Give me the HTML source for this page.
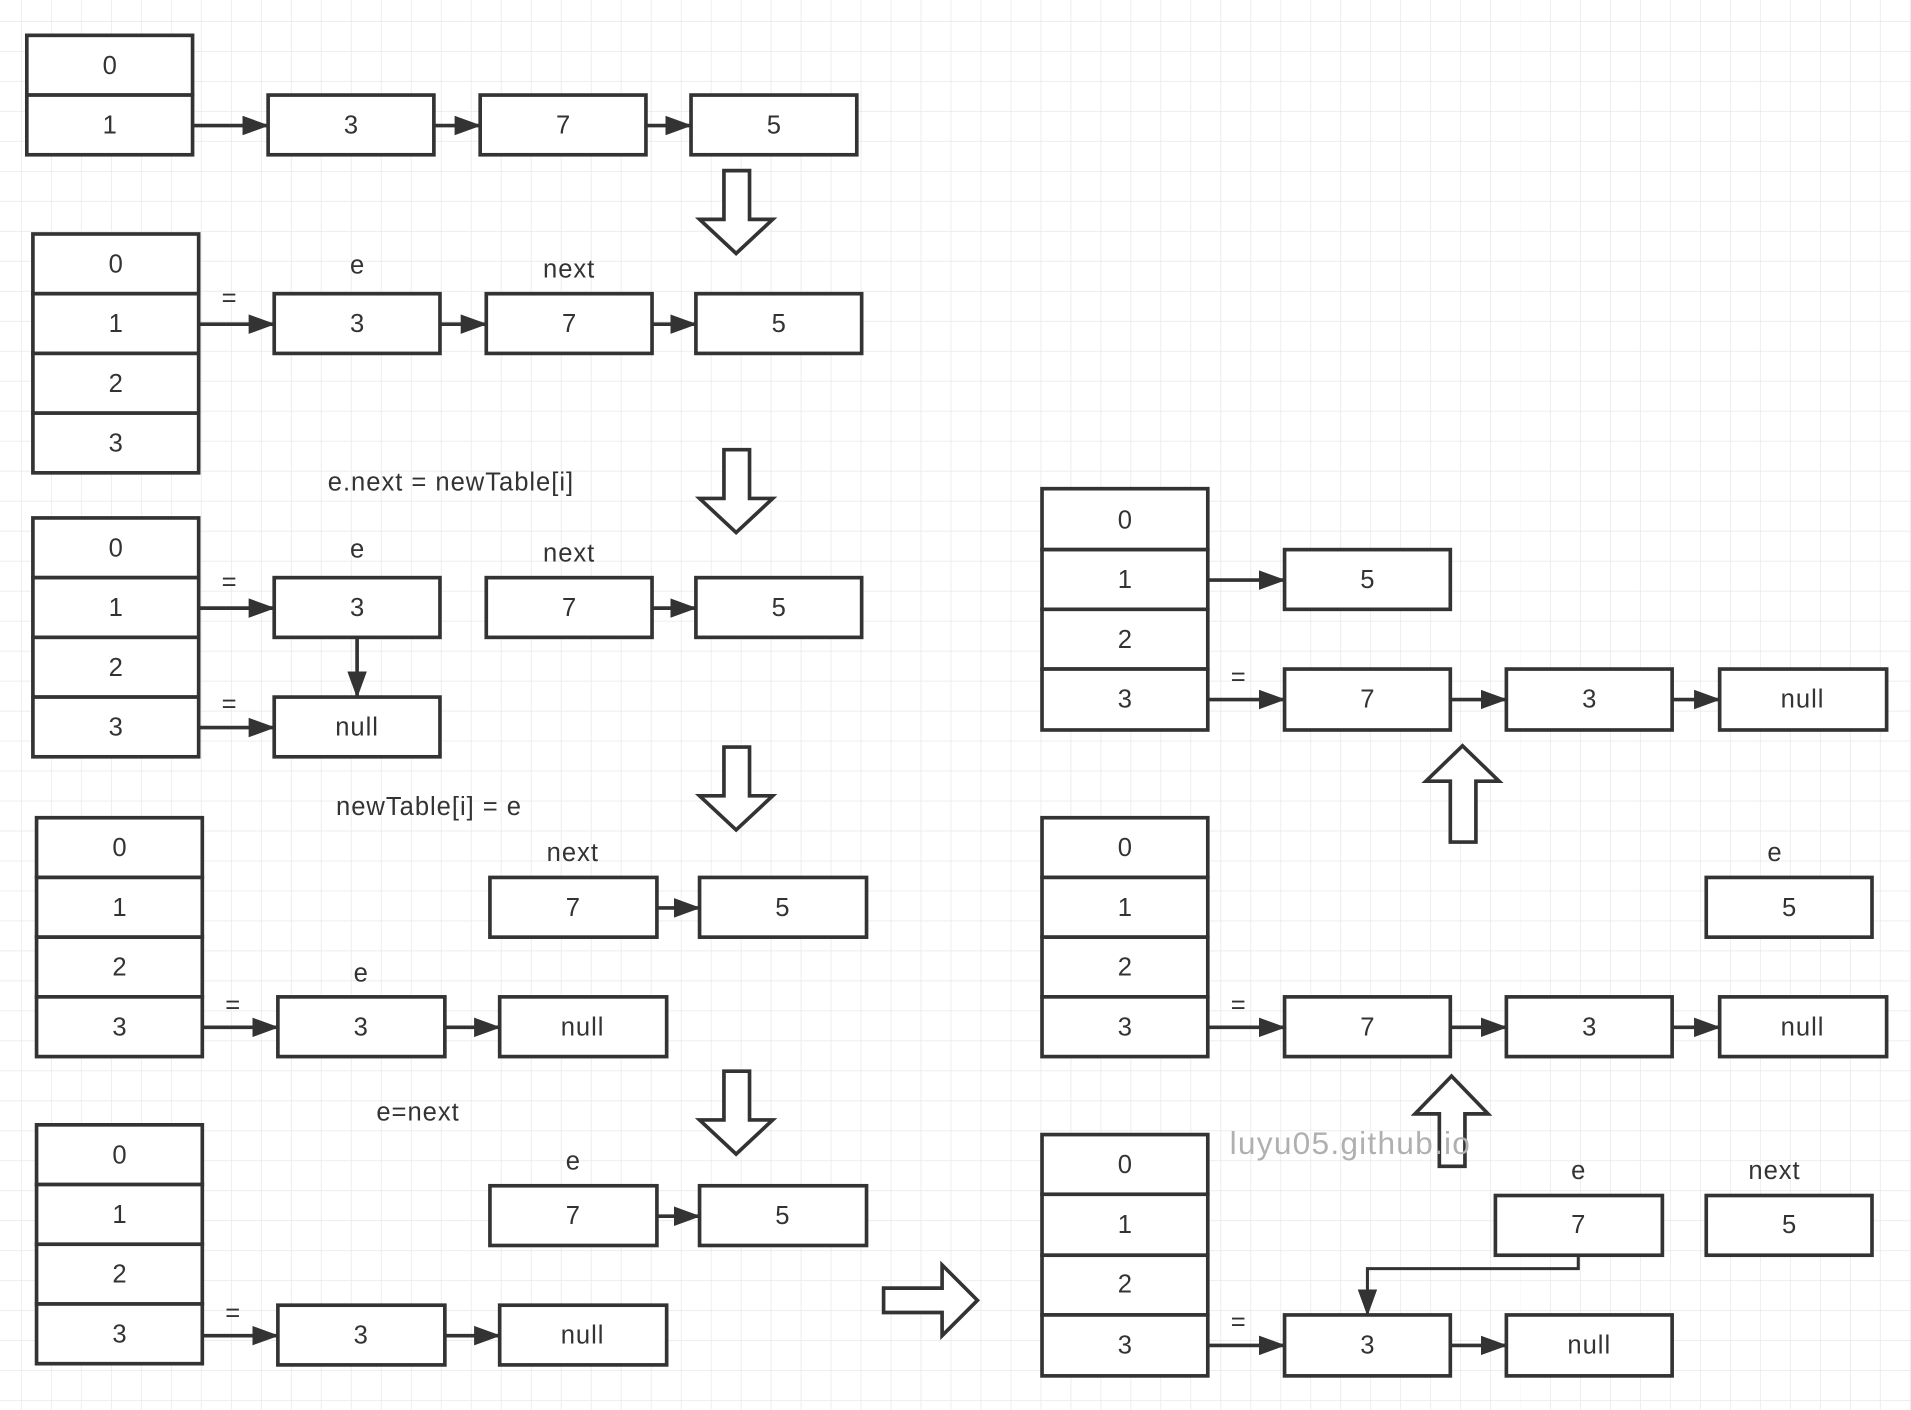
<!DOCTYPE html>
<html><head><meta charset="utf-8"><style>
html,body{margin:0;padding:0;background:#fff}
svg{display:block}
text{font-family:"Liberation Sans",sans-serif;font-size:21px;fill:#333;text-anchor:middle;dominant-baseline:central}
.l{letter-spacing:0.8px}
</style></head><body>
<svg width="1911" height="1410" viewBox="0 0 1568 1157" preserveAspectRatio="none" xmlns="http://www.w3.org/2000/svg">
<defs>
<pattern id="g" x="18" y="18" width="24.6" height="24.6" patternUnits="userSpaceOnUse">
<path d="M24.6 0V24.6M0 24.6H24.6" stroke="#e8e8e8" stroke-width="1.2" fill="none"/>
</pattern>
<marker id="a" markerWidth="22" markerHeight="16" refX="21" refY="8" orient="auto" markerUnits="userSpaceOnUse">
<path d="M0 0L22 8L0 16Z" fill="#333"/>
</marker>
</defs>
<rect width="1568" height="1157" fill="#fff"/>
<rect width="1568" height="1157" fill="url(#g)"/>
<g fill="#fff" stroke="#333" stroke-width="3">
<rect x="22" y="29" width="136" height="49"/><rect x="22" y="78" width="136" height="49"/>
<rect x="220" y="78" width="136" height="49"/><rect x="394" y="78" width="136" height="49"/><rect x="567" y="78" width="136" height="49"/>
<rect x="27" y="192" width="136" height="49"/><rect x="27" y="241" width="136" height="49"/><rect x="27" y="290" width="136" height="49"/><rect x="27" y="339" width="136" height="49"/>
<rect x="225" y="241" width="136" height="49"/><rect x="399" y="241" width="136" height="49"/><rect x="571" y="241" width="136" height="49"/>
<rect x="27" y="425" width="136" height="49"/><rect x="27" y="474" width="136" height="49"/><rect x="27" y="523" width="136" height="49"/><rect x="27" y="572" width="136" height="49"/>
<rect x="225" y="474" width="136" height="49"/><rect x="399" y="474" width="136" height="49"/><rect x="571" y="474" width="136" height="49"/><rect x="225" y="572" width="136" height="49"/>
<rect x="30" y="671" width="136" height="49"/><rect x="30" y="720" width="136" height="49"/><rect x="30" y="769" width="136" height="49"/><rect x="30" y="818" width="136" height="49"/>
<rect x="402" y="720" width="137" height="49"/><rect x="574" y="720" width="137" height="49"/><rect x="228" y="818" width="137" height="49"/><rect x="410" y="818" width="137" height="49"/>
<rect x="30" y="923" width="136" height="49"/><rect x="30" y="972" width="136" height="49"/><rect x="30" y="1021" width="136" height="49"/><rect x="30" y="1070" width="136" height="49"/>
<rect x="402" y="973" width="137" height="49"/><rect x="574" y="973" width="137" height="49"/><rect x="228" y="1071" width="137" height="49"/><rect x="410" y="1071" width="137" height="49"/>
<rect x="855" y="401" width="136" height="50"/><rect x="855" y="451" width="136" height="49"/><rect x="855" y="500" width="136" height="49"/><rect x="855" y="549" width="136" height="50"/>
<rect x="1054" y="451" width="136" height="49"/><rect x="1054" y="549" width="136" height="50"/><rect x="1236" y="549" width="136" height="50"/><rect x="1411" y="549" width="137" height="50"/>
<rect x="855" y="671" width="136" height="49"/><rect x="855" y="720" width="136" height="49"/><rect x="855" y="769" width="136" height="49"/><rect x="855" y="818" width="136" height="49"/>
<rect x="1400" y="720" width="136" height="49"/><rect x="1054" y="818" width="136" height="49"/><rect x="1236" y="818" width="136" height="49"/><rect x="1411" y="818" width="137" height="49"/>
<rect x="855" y="931" width="136" height="49"/><rect x="855" y="980" width="136" height="50"/><rect x="855" y="1030" width="136" height="49"/><rect x="855" y="1079" width="136" height="50"/>
<rect x="1227" y="981" width="137" height="49"/><rect x="1400" y="981" width="136" height="49"/><rect x="1054" y="1079" width="136" height="50"/><rect x="1236" y="1079" width="136" height="50"/>
<path d="M594 140H615V180H634L604 208L574 180H594Z"/>
<path d="M594 369H615V409H634L604 437L574 409H594Z"/>
<path d="M594 613H615V653H634L604 681L574 653H594Z"/>
<path d="M594 879H615V919H634L604 947L574 919H594Z"/>
<path d="M725 1057H773V1038L802 1067L773 1096V1077H725Z"/>
<path d="M1190 691V641H1170L1200 612L1230 641H1211V691Z"/>
<path d="M1181 957V914H1161L1191 883L1221 914H1202V957Z"/>
</g>
<g stroke="#333" stroke-width="3" fill="none" marker-end="url(#a)">
<path d="M158 103H220"/><path d="M356 103H394"/><path d="M530 103H567"/>
<path d="M163 266H225"/><path d="M361 266H399"/><path d="M535 266H571"/>
<path d="M163 499H225"/><path d="M163 597H225"/><path d="M535 499H571"/><path d="M293 523V572"/>
<path d="M539 745H574"/><path d="M166 843H228"/><path d="M365 843H410"/>
<path d="M539 998H574"/><path d="M166 1096H228"/><path d="M365 1096H410"/>
<path d="M991 476H1054"/><path d="M991 574H1054"/><path d="M1190 574H1236"/><path d="M1372 574H1411"/>
<path d="M991 843H1054"/><path d="M1190 843H1236"/><path d="M1372 843H1411"/>
<path d="M991 1104H1054"/><path d="M1190 1104H1236"/><path d="M1295 1030V1041H1122V1079" stroke-width="2.5"/>
</g>
<g>
<text x="90" y="54">0</text><text x="90" y="103">1</text><text x="288" y="103">3</text><text x="462" y="103">7</text><text x="635" y="103">5</text>
<text x="95" y="217">0</text><text x="95" y="266">1</text><text x="95" y="315">2</text><text x="95" y="364">3</text>
<text x="293" y="266">3</text><text x="467" y="266">7</text><text x="639" y="266">5</text><text x="293" y="218">e</text><text class="l" x="467" y="221">next</text><text x="188" y="245">=</text>
<text class="l" x="370" y="396">e.next = newTable[i]</text>
<text x="95" y="450">0</text><text x="95" y="499">1</text><text x="95" y="548">2</text><text x="95" y="597">3</text>
<text x="293" y="451">e</text><text class="l" x="467" y="454">next</text><text x="293" y="499">3</text><text x="467" y="499">7</text><text x="639" y="499">5</text><text class="l" x="293" y="597">null</text><text x="188" y="478">=</text><text x="188" y="578">=</text>
<text class="l" x="352" y="662">newTable[i] = e</text>
<text x="98" y="696">0</text><text x="98" y="745">1</text><text x="98" y="794">2</text><text x="98" y="843">3</text>
<text class="l" x="470" y="700">next</text><text x="470" y="745">7</text><text x="642" y="745">5</text><text x="296" y="799">e</text><text x="296" y="843">3</text><text class="l" x="478" y="843">null</text><text x="191" y="825">=</text>
<text class="l" x="343" y="913">e=next</text>
<text x="98" y="948">0</text><text x="98" y="997">1</text><text x="98" y="1046">2</text><text x="98" y="1095">3</text>
<text x="470" y="953">e</text><text x="470" y="998">7</text><text x="642" y="998">5</text><text x="296" y="1096">3</text><text class="l" x="478" y="1096">null</text><text x="191" y="1078">=</text>
<text x="923" y="427">0</text><text x="923" y="476">1</text><text x="923" y="525">2</text><text x="923" y="574">3</text>
<text x="1122" y="476">5</text><text x="1122" y="574">7</text><text x="1304" y="574">3</text><text class="l" x="1479" y="574">null</text><text x="1016" y="556">=</text>
<text x="923" y="696">0</text><text x="923" y="745">1</text><text x="923" y="794">2</text><text x="923" y="843">3</text>
<text x="1456" y="700">e</text><text x="1468" y="745">5</text><text x="1122" y="843">7</text><text x="1304" y="843">3</text><text class="l" x="1479" y="843">null</text><text x="1016" y="825">=</text>
<text x="923" y="956">0</text><text x="923" y="1005">1</text><text x="923" y="1054">2</text><text x="923" y="1104">3</text>
<text x="1295" y="961">e</text><text class="l" x="1456" y="961">next</text><text x="1295" y="1005">7</text><text x="1468" y="1005">5</text><text x="1122" y="1104">3</text><text class="l" x="1304" y="1104">null</text><text x="1016" y="1085">=</text>
<text x="1108" y="938" style="font-size:26px;fill:#b0b0b0;letter-spacing:1px">luyu05.github.io</text>
</g>
</svg>
</body></html>
